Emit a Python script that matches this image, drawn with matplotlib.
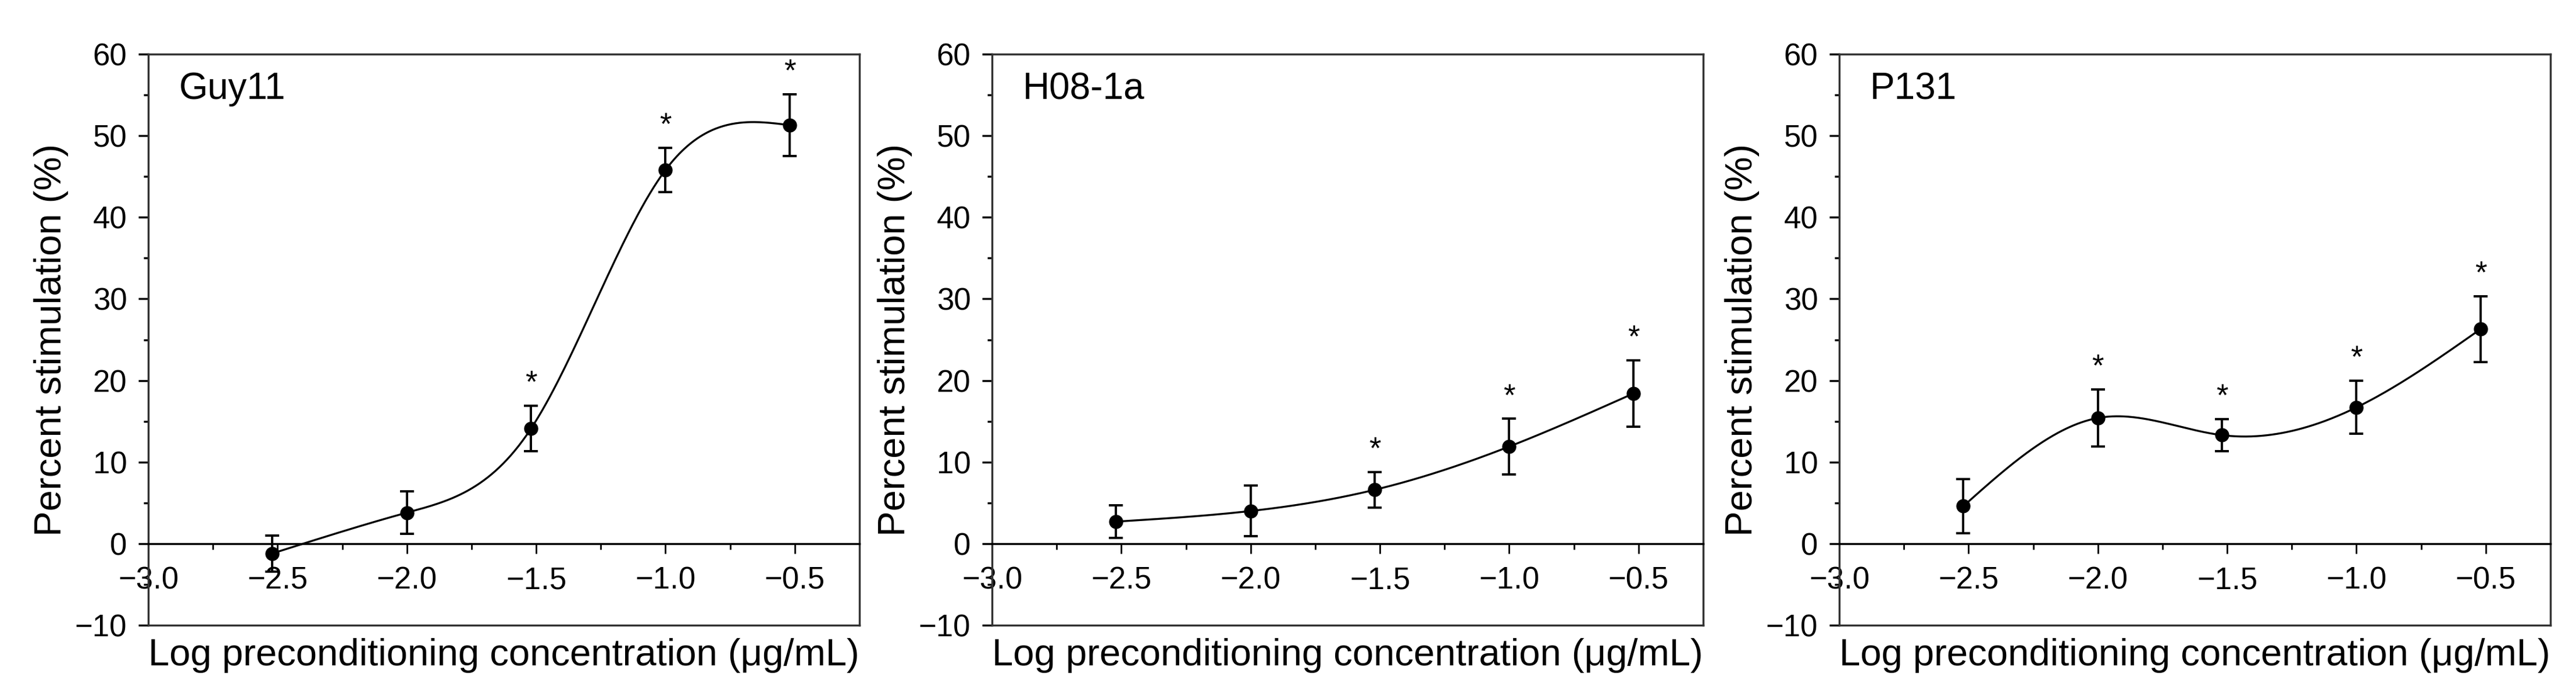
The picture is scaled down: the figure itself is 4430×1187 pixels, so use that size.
import numpy as np
import matplotlib
matplotlib.use("Agg")
from matplotlib import pyplot as plt
from matplotlib.ticker import MultipleLocator, FuncFormatter

plt.rcParams['font.family'] = ['Liberation Sans', 'DejaVu Sans']

# log10 of preconditioning concentrations (0.003, 0.01, 0.03, 0.1, 0.3 ug/mL)
log_conc = [-2.52, -2.0, -1.52, -1.0, -0.52]

strains = ['Guy11', 'H08-1a', 'P131']
guy11_mean = [-1.2, 3.8, 14.1, 45.8, 51.3]
guy11_err = [2.2, 2.6, 2.8, 2.7, 3.8]
guy11_sig = [False, False, True, True, True]

h08_mean = [2.7, 4.0, 6.6, 11.9, 18.4]
h08_err = [2.0, 3.1, 2.2, 3.4, 4.1]
h08_sig = [False, False, True, True, True]

p131_mean = [4.6, 15.4, 13.3, 16.7, 26.3]
p131_err = [3.3, 3.5, 1.95, 3.25, 4.05]
p131_sig = [False, True, True, True, True]

means = [guy11_mean, h08_mean, p131_mean]
errs = [guy11_err, h08_err, p131_err]
sigs = [guy11_sig, h08_sig, p131_sig]


def natural_spline(x, y, xs):
    # natural cubic spline (second derivative 0 at both ends)
    x = np.asarray(x, float)
    y = np.asarray(y, float)
    n = len(x)
    h = np.diff(x)
    A = np.zeros((n, n))
    b = np.zeros(n)
    A[0, 0] = 1
    A[-1, -1] = 1
    for i in range(1, n - 1):
        A[i, i - 1] = h[i - 1]
        A[i, i] = 2 * (h[i - 1] + h[i])
        A[i, i + 1] = h[i]
        b[i] = 6 * ((y[i + 1] - y[i]) / h[i] - (y[i] - y[i - 1]) / h[i - 1])
    M = np.linalg.solve(A, b)
    idx = np.clip(np.searchsorted(x, xs) - 1, 0, n - 2)
    x0, x1 = x[idx], x[idx + 1]
    hh = x1 - x0
    return (M[idx] * (x1 - xs) ** 3 / (6 * hh) + M[idx + 1] * (xs - x0) ** 3 / (6 * hh)
            + (y[idx] / hh - M[idx] * hh / 6) * (x1 - xs)
            + (y[idx + 1] / hh - M[idx + 1] * hh / 6) * (xs - x0))


fig = plt.figure(figsize=(44.3, 11.87), dpi=100)
lefts = [255, 1706, 3163]
spine_col = '#333333'

for k in range(3):
    ax = fig.add_axes([lefts[k] / 4430, 113 / 1187, 1223 / 4430, 981 / 1187])
    ax.set_xlim(-3.0, -0.25)
    ax.set_ylim(-10, 60)

    xs = np.linspace(log_conc[0], log_conc[-1], 400)
    ax.plot(xs, natural_spline(log_conc, means[k], xs), color='k', lw=2.4, zorder=3)
    ax.errorbar(log_conc, means[k], yerr=errs[k], fmt='o', color='k', ms=16.5,
                capsize=8.5, elinewidth=2.8, capthick=2.8, zorder=4)
    for xi, m, e, s in zip(log_conc, means[k], errs[k], sigs[k]):
        if s:
            ax.text(xi, m + e + 1.7, '*', ha='center', va='baseline', fontsize=38)

    ax.text(0.043, 0.921, strains[k], transform=ax.transAxes, fontsize=46,
            ha='left', va='baseline')

    for sp in ax.spines.values():
        sp.set_color(spine_col)
        sp.set_linewidth(2.5)
    ax.spines['bottom'].set_position(('data', 0))
    ax.spines['bottom'].set_color('k')
    ax.axhline(-10, color=spine_col, lw=2.5, clip_on=False, zorder=5)

    ax.xaxis.set_major_locator(MultipleLocator(0.5))
    ax.xaxis.set_minor_locator(MultipleLocator(0.25))
    ax.yaxis.set_major_locator(MultipleLocator(10))
    ax.yaxis.set_minor_locator(MultipleLocator(5))
    ax.xaxis.set_major_formatter(FuncFormatter(lambda v, p: ('%.1f' % v).replace('-', '\u2212')))
    ax.tick_params(axis='x', which='major', length=12.5, width=2, pad=15, labelsize=38)
    ax.tick_params(axis='x', which='minor', length=7, width=2)
    ax.tick_params(axis='y', which='major', length=12.5, width=2.5, pad=14, labelsize=38)
    ax.tick_params(axis='y', which='minor', length=6, width=2.5)
    ax.tick_params(top=False, right=False)

    ax.set_ylabel('Percent stimulation (%)', fontsize=47, labelpad=8)
    ax.text(0.5, -0.022, 'Log preconditioning concentration (\u03bcg/mL)',
            transform=ax.transAxes, fontsize=47, ha='center', va='top')

fig.savefig('out.png', dpi=100)
